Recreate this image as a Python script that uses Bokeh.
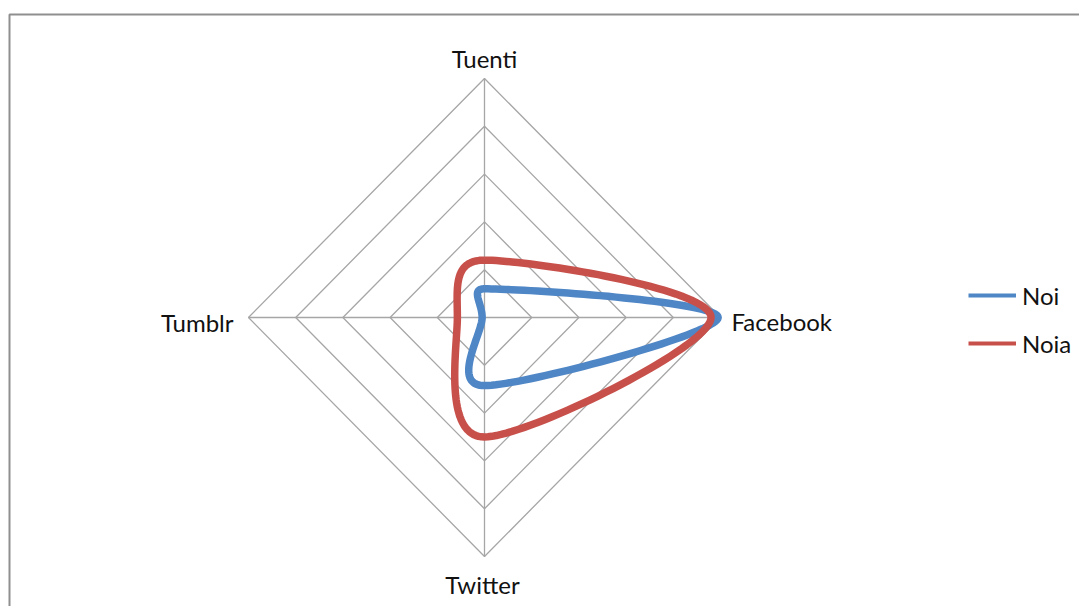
import numpy as np
from bokeh.plotting import figure
from bokeh.models import Range1d, Legend, LegendItem, ColumnDataSource
from bokeh.core.properties import value
from bokeh.embed import file_html
from bokeh.resources import INLINE

# ---- data ----
categories = ["Tuenti", "Facebook", "Twitter", "Tumblr"]
noi = [12, 99, 28.5, 1]
noia = [24, 96, 50, 11.5]
ring_values = [20, 40, 60, 80, 100]
max_value = 100

# ---- layout (page pixel coordinates) ----
CX, CY = 484, 317
RX, RY = 236, 239
FONT = "Lato"

p = figure(width=1079, height=606, x_range=Range1d(0, 1079), y_range=Range1d(606, 0),
           output_backend="svg", toolbar_location=None, min_border=0)
p.axis.visible = False
p.grid.visible = False
p.outline_line_color = None
p.background_fill_color = "white"

n = len(categories)
angles = np.arange(n) * 2 * np.pi / n


def to_xy(vals):
    v = np.asarray(vals, dtype=float) / max_value
    return CX + RX * v * np.sin(angles), CY - RY * v * np.cos(angles)


# frame (top and left edges of the chart area)
p.line([9, 9, 1090], [620, 14, 14], line_color="#8f8f8f", line_width=2)

# grid rings
for rv in ring_values:
    x, y = to_xy([rv] * n)
    p.line(list(x) + [x[0]], list(y) + [y[0]], line_color="#a6a6a6", line_width=1.3)
# spokes
ox, oy = to_xy([max_value] * n)
for i in range(n):
    p.line([CX, ox[i]], [CY, oy[i]], line_color="#a6a6a6", line_width=1.3)


def _cap(v, lim):
    nv = np.hypot(*v)
    return v if nv <= lim or nv == 0 else v * (lim / nv)


def smooth_closed(x, y, steps=40):
    pts = np.column_stack([x, y])
    m = len(pts)
    out = []
    for i in range(m):
        p0, p1, p2, p3 = pts[(i - 1) % m], pts[i], pts[(i + 1) % m], pts[(i + 2) % m]
        d12 = np.hypot(*(p2 - p1))
        c1 = p1 + _cap((p2 - p0) / 6.0, 0.5 * d12)
        c2 = p2 - _cap((p3 - p1) / 6.0, 0.5 * d12)
        t = np.linspace(0, 1, steps, endpoint=False)[:, None]
        seg = ((1 - t) ** 3) * p1 + 3 * ((1 - t) ** 2) * t * c1 + 3 * (1 - t) * t ** 2 * c2 + t ** 3 * p2
        out.append(seg)
    out.append(pts[:1])
    arr = np.vstack(out)
    return arr[:, 0], arr[:, 1]


series = [("Noi", noi, "#4F86C6"), ("Noia", noia, "#C8504B")]
items = []
for name, vals, col in series:
    x, y = to_xy(vals)
    sx, sy = smooth_closed(x, y)
    p.line(sx, sy, line_color=col, line_width=7.5, line_join="round")
    dummy = p.line([np.nan, np.nan], [np.nan, np.nan], line_color=col, line_width=4)
    items.append(LegendItem(label=name, renderers=[dummy]))

# category labels (order: Tuenti top, Facebook right, Twitter bottom, Tumblr left)
lab_src = ColumnDataSource(dict(
    x=[484, 731, 482, 233], y=[58, 321, 584, 322], t=categories,
    align=["center", "left", "center", "right"]))
p.text(x="x", y="y", text="t", source=lab_src, text_align="align", text_baseline="middle",
       text_font=value(FONT), text_font_size="24px", text_color="#111111")

legend = Legend(items=items, location=(968, 248), padding=0, margin=0,
                border_line_color=None, background_fill_alpha=0,
                glyph_width=48, glyph_height=30, label_height=30, spacing=18,
                label_standoff=6, label_text_font=FONT, label_text_font_size="24px",
                label_text_color="#111111")
p.add_layout(legend)

open("out.html", "w").write(file_html(p, INLINE))
